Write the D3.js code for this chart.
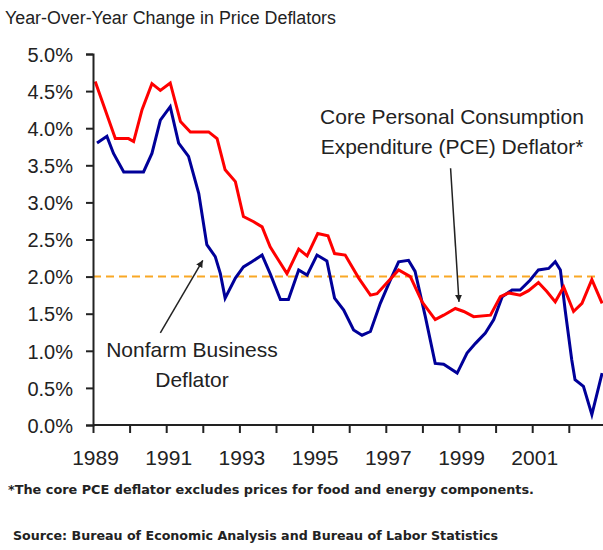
<!DOCTYPE html>
<meta charset="utf-8">
<head>
    <title>Year-Over-Year Change in Price Deflators</title>
    <script type="text/javascript" src="https://d3js.org/d3.v7.min.js"></script>
    <style>
        body { margin: 0; background: white; }
        text { font-family: Arial, "Liberation Sans", sans-serif; fill: #222; }
        .small { font-family: "DejaVu Sans", Verdana, sans-serif; font-weight: bold; }
    </style>
</head>

<body>
    <script>

        // data (decimal years, percent)
        const pceDates = [1989.06, 1989.61, 1989.97, 1990.11, 1990.34, 1990.61, 1990.84, 1991.11, 1991.39, 1991.66,
            1992.16, 1992.39, 1992.61, 1992.89, 1993.11, 1993.39, 1993.62, 1993.84, 1994.07, 1994.30,
            1994.62, 1994.85, 1995.14, 1995.42, 1995.60, 1995.89, 1996.26, 1996.58, 1996.76, 1997.35,
            1997.67, 1997.99, 1998.35, 1998.58, 1998.90, 1999.13, 1999.40, 1999.86, 2000.13, 2000.36,
            2000.67, 2000.90, 2001.17, 2001.40, 2001.63, 2001.86, 2002.13, 2002.36, 2002.63, 2002.91]
        const pceValues = [4.63, 3.86, 3.86, 3.82, 4.25, 4.60, 4.51, 4.61, 4.09, 3.95,
            3.95, 3.86, 3.44, 3.28, 2.81, 2.74, 2.67, 2.40, 2.22, 2.04,
            2.37, 2.28, 2.58, 2.55, 2.31, 2.29, 1.98, 1.75, 1.77, 2.09,
            2.00, 1.66, 1.42, 1.48, 1.57, 1.53, 1.46, 1.48, 1.73, 1.78,
            1.75, 1.81, 1.92, 1.80, 1.66, 1.86, 1.53, 1.64, 1.96, 1.64]

        const nfbDates = [1989.11, 1989.38, 1989.56, 1989.84, 1990.38, 1990.61, 1990.84, 1991.11, 1991.34, 1991.61,
            1991.89, 1992.11, 1992.34, 1992.48, 1992.61, 1992.89, 1993.11, 1993.34, 1993.62, 1993.84,
            1994.12, 1994.34, 1994.62, 1994.85, 1995.12, 1995.39, 1995.60, 1995.85, 1996.12, 1996.35,
            1996.58, 1996.85, 1997.12, 1997.35, 1997.62, 1997.80, 1998.08, 1998.35, 1998.58, 1998.95,
            1999.22, 1999.45, 1999.72, 1999.95, 2000.18, 2000.45, 2000.67, 2000.94, 2001.17, 2001.45,
            2001.63, 2001.77, 2001.90, 2002.08, 2002.17, 2002.40, 2002.63, 2002.91]
        const nfbValues = [3.80, 3.89, 3.66, 3.41, 3.41, 3.66, 4.11, 4.29, 3.80, 3.62,
            3.12, 2.43, 2.27, 2.04, 1.71, 1.98, 2.13, 2.20, 2.29, 2.04,
            1.69, 1.69, 2.09, 2.02, 2.29, 2.21, 1.71, 1.55, 1.28, 1.21,
            1.26, 1.64, 1.95, 2.20, 2.22, 2.07, 1.46, 0.83, 0.82, 0.70,
            0.97, 1.10, 1.24, 1.42, 1.73, 1.82, 1.82, 1.95, 2.09, 2.11,
            2.20, 2.09, 1.55, 0.88, 0.61, 0.52, 0.14, 0.70]

        const yearTicks = [1989, 1990, 1991, 1992, 1993, 1994, 1995, 1996, 1997, 1998, 1999, 2000, 2001, 2002]
        const yearLabels = [1989, 1991, 1993, 1995, 1997, 1999, 2001]
        const pctTicks = [0, 0.5, 1, 1.5, 2, 2.5, 3, 3.5, 4, 4.5, 5]
        const targetRate = 2.0
        const targetSpan = [1989, 2002.75]

        // dimensions
        const w = 603, h = 550
        const margin = {top: 54, left: 93, bottom: 125}

        let svg = d3.select("body").append("svg")
            .attr("width", w)
            .attr("height", h)

        // scales (one year = 36.6px)
        const x = d3.scaleLinear().domain([1989, 2003]).range([margin.left, margin.left + 14 * 36.6])
        const y = d3.scaleLinear().domain([0, 5]).range([h - margin.bottom, margin.top])

        // title
        svg.append("text")
            .attr("x", 5).attr("y", 24)
            .attr("font-size", 18)
            .attr("textLength", 331).attr("lengthAdjust", "spacingAndGlyphs")
            .text("Year-Over-Year Change in Price Deflators")

        // 2% dashed reference
        svg.append("line")
            .attr("x1", x(targetSpan[0])).attr("x2", x(targetSpan[1]))
            .attr("y1", y(targetRate)).attr("y2", y(targetRate))
            .attr("stroke", "#f9a825")
            .attr("stroke-width", 2)
            .attr("stroke-dasharray", "8,5")

        // series lines
        const line = d3.line().x(d => x(d[0])).y(d => y(d[1]))

        svg.append("path")
            .datum(d3.zip(nfbDates, nfbValues))
            .attr("d", line)
            .attr("fill", "none")
            .attr("stroke", "#000099")
            .attr("stroke-width", 3)

        svg.append("path")
            .datum(d3.zip(pceDates, pceValues))
            .attr("d", line)
            .attr("fill", "none")
            .attr("stroke", "#ff0000")
            .attr("stroke-width", 3)

        // y axis
        let yAxis = svg.append("g")
            .attr("transform", "translate(" + margin.left + ",0)")
            .call(d3.axisLeft(y).tickValues(pctTicks).tickSize(7).tickFormat(d3.format(".1f")))
        yAxis.selectAll("text")
            .text(d => d3.format(".1f")(d) + "%")
            .attr("font-size", 20)
            .attr("font-family", "Arial, 'Liberation Sans', sans-serif")
            .attr("fill", "#222")
            .attr("x", -20)
            .attr("dy", "0.36em")
        yAxis.select(".domain").attr("stroke", "#222").attr("stroke-width", 2)
        yAxis.selectAll(".tick line").attr("stroke", "#222").attr("stroke-width", 2)

        // x axis
        let xAxis = svg.append("g")
            .attr("transform", "translate(0," + y(0) + ")")
            .call(d3.axisBottom(x).tickValues(yearTicks).tickSize(8).tickSizeOuter(0)
                .tickFormat(d => yearLabels.includes(d) ? d : ""))
        xAxis.select(".domain").attr("stroke", "#222").attr("stroke-width", 2)
            .attr("d", "M" + margin.left + ",0H" + w)
        xAxis.selectAll(".tick line").attr("stroke", "#222").attr("stroke-width", 2)
        xAxis.selectAll("text")
            .attr("font-size", 21)
            .attr("font-family", "Arial, 'Liberation Sans', sans-serif")
            .attr("fill", "#222")
            .attr("y", 25)
            .attr("dx", 2)

        // arrow marker
        svg.append("defs").append("marker")
            .attr("id", "arrow")
            .attr("viewBox", "0 0 10 10")
            .attr("refX", 10).attr("refY", 5)
            .attr("markerWidth", 7).attr("markerHeight", 7)
            .attr("markerUnits", "userSpaceOnUse")
            .attr("orient", "auto")
            .append("path").attr("d", "M0,0L10,5L0,10Z").attr("fill", "#222")

        // annotations
        svg.append("line")
            .attr("x1", x(1998.77)).attr("y1", y(3.46))
            .attr("x2", x(1999.0)).attr("y2", y(1.66))
            .attr("stroke", "#222").attr("stroke-width", 1.5)
            .attr("marker-end", "url(#arrow)")

        svg.append("line")
            .attr("x1", x(1990.84)).attr("y1", y(1.24))
            .attr("x2", x(1992.0)).attr("y2", y(2.22))
            .attr("stroke", "#222").attr("stroke-width", 1.5)
            .attr("marker-end", "url(#arrow)")

        svg.append("text").attr("x", 452).attr("y", 124).attr("font-size", 21)
            .attr("text-anchor", "middle").text("Core Personal Consumption")
        svg.append("text").attr("x", 452).attr("y", 154).attr("font-size", 21)
            .attr("text-anchor", "middle").text("Expenditure (PCE) Deflator*")

        svg.append("text").attr("x", 192).attr("y", 357).attr("font-size", 21)
            .attr("text-anchor", "middle").text("Nonfarm Business")
        svg.append("text").attr("x", 192).attr("y", 387).attr("font-size", 21)
            .attr("text-anchor", "middle").text("Deflator")

        // footnotes
        svg.append("text").attr("class", "small")
            .attr("x", 8).attr("y", 494).attr("font-size", 12)
            .attr("textLength", 526).attr("lengthAdjust", "spacingAndGlyphs")
            .text("*The core PCE deflator excludes prices for food and energy components.")

        svg.append("text").attr("class", "small")
            .attr("x", 13).attr("y", 540).attr("font-size", 12)
            .attr("textLength", 485).attr("lengthAdjust", "spacingAndGlyphs")
            .text("Source: Bureau of Economic Analysis and Bureau of Labor Statistics")

    </script>
</body>
</html>
